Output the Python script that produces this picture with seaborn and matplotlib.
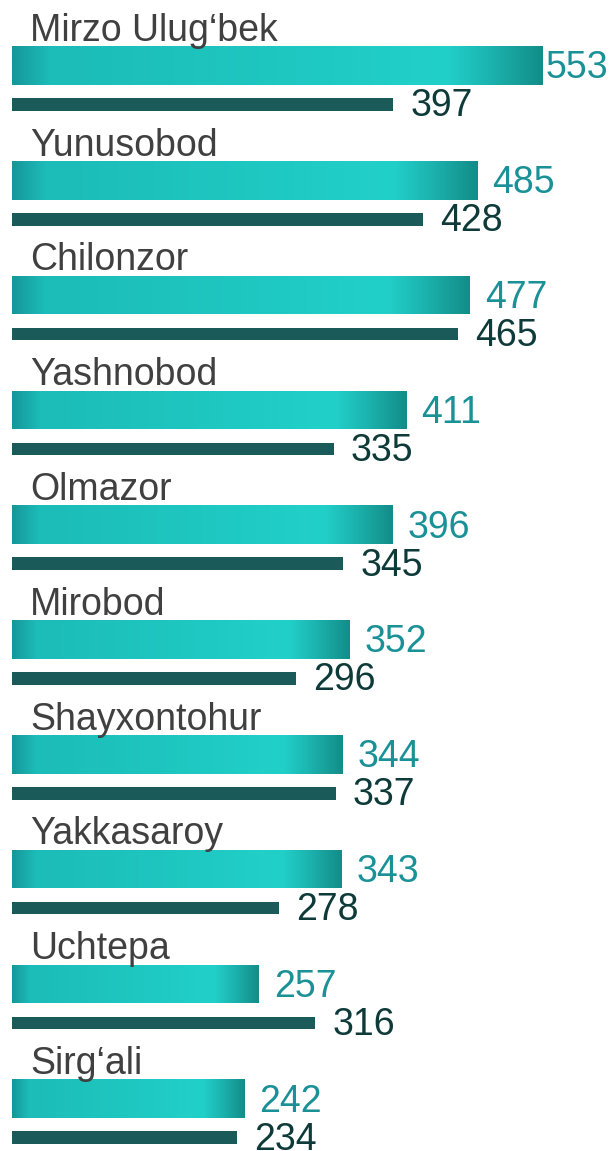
import numpy as np
import matplotlib
matplotlib.use("Agg")
import matplotlib.pyplot as plt
from matplotlib.colors import LinearSegmentedColormap
import seaborn as sns

# ---- data ----
districts = ["Mirzo Ulug‘bek", "Yunusobod", "Chilonzor", "Yashnobod", "Olmazor",
             "Mirobod", "Shayxontohur", "Yakkasaroy", "Uchtepa", "Sirg‘ali"]
primary = [553, 485, 477, 411, 396, 352, 344, 343, 257, 242]
secondary = [397, 428, 465, 335, 345, 296, 337, 278, 316, 234]

# ---- style ----
sns.set_style("white")
plt.rcParams['font.family'] = ['Liberation Sans', 'DejaVu Sans']

teal_grad = LinearSegmentedColormap.from_list(
    "teal_grad",
    [(0.0, "#16979a"), (0.07, "#1cbcb8"), (0.5, "#1fc7c1"),
     (0.82, "#22d0ca"), (0.9, "#1cb4af"), (1.0, "#138d89")])
dark_bar = "#0f6663"
teal_text = "#1a9097"
dark_text = "#0e3b39"
label_col = "#404040"

px_per_unit = 0.96
x0_px = 12
cell = 114.8  # pixels between groups
fig = plt.figure(figsize=(6.10, 11.51), dpi=100)
ax = fig.add_axes([0, 0, 1, 1])

big_h = 0.335
small_h = 0.11
small_off = 0.34

sns.barplot(x=primary, y=districts, orient="h", width=big_h, color="#1fc7c1", ax=ax)
n = len(districts)
big_patches = list(ax.patches[:n])
sns.barplot(x=secondary, y=districts, orient="h", width=small_h, color=dark_bar, ax=ax)
small_patches = list(ax.patches[n:])
for p in small_patches:
    p.set_y(p.get_y() + small_off)
    p.set_linewidth(0)

gradient = np.linspace(0, 1, 256).reshape(1, -1)
for p in big_patches:
    p.set_linewidth(0)
    xa, ya = p.get_x(), p.get_y()
    w, h = p.get_width(), p.get_height()
    im = ax.imshow(gradient, extent=[xa, xa + w, ya, ya + h], aspect="auto",
                   cmap=teal_grad, zorder=2)
    im.set_clip_path(p)

digit_drop = 13 / cell
for i, (name, a, b) in enumerate(zip(districts, primary, secondary)):
    ax.text(18.75, i - 0.215, name, fontsize=27, color=label_col,
            va="baseline", ha="left", zorder=5)
    xa = min(a + 15 / px_per_unit, (546 - x0_px) / px_per_unit)
    ax.text(xa, i + digit_drop, str(a), fontsize=27, color=teal_text,
            va="baseline", ha="left", zorder=5)
    ax.text(b + 17 / px_per_unit, i + small_off + digit_drop - 0.01, str(b),
            fontsize=27, color=dark_text, va="baseline", ha="left", zorder=5)

ax.set_xlim(-x0_px / px_per_unit, (610 - x0_px) / px_per_unit)
ax.set_ylim((1151 - 65.5) / cell, -65.5 / cell)
ax.axis("off")

fig.savefig("out.png", dpi=100)
